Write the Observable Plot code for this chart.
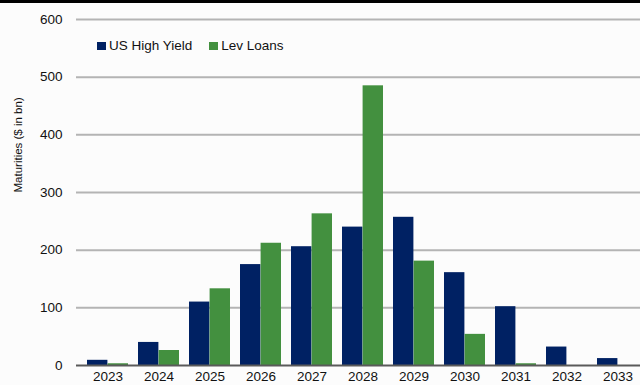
<!DOCTYPE html>
<html>
<head>
<meta charset="utf-8">
<script src="https://cdn.jsdelivr.net/npm/d3@7"></script>
<script src="https://cdn.jsdelivr.net/npm/@observablehq/plot@0.6"></script>
<style>
  html, body { margin: 0; padding: 0; background: #fcfcfc; }
  #wrap { position: relative; width: 640px; height: 385px; overflow: hidden; background: #fcfcfc; font-family: Arial, "Liberation Sans", sans-serif; }
  #topbar { position: absolute; left: 0; top: 0; width: 640px; height: 3px; background: #000; }
  #legend { position: absolute; left: 97px; top: 38px; font-size: 13.5px; color: #111; display: flex; align-items: center; }
  #legend .item { display: flex; align-items: center; margin-right: 17px; }
  #legend .sw { width: 9px; height: 8px; margin-right: 3px; }
</style>
</head>
<body>
<div id="wrap">
  <div id="chart"></div>
  <div id="topbar"></div>
  <div id="legend"></div>
</div>
<script>
const years = ["2023","2024","2025","2026","2027","2028","2029","2030","2031","2032","2033"];
const seriesNames = ["US High Yield", "Lev Loans"];
const highYield = [9, 40, 110, 175, 206, 240, 257, 161, 102, 32, 12];
const levLoans = [3, 26, 133, 212, 263, 485, 181, 54, 3, 0, 0];
const yTicks = [0, 100, 200, 300, 400, 500, 600];
const colors = ["#002163", "#43903f"];

const hyData = years.map((year, i) => ({year, value: highYield[i], series: seriesNames[0]}));
const llData = years.map((year, i) => ({year, value: levLoans[i], series: seriesNames[1]}));

const half = 20.6;

const chart = Plot.plot({
  width: 640,
  height: 385,
  marginTop: 19,
  marginBottom: 20,
  marginLeft: 76,
  marginRight: 0,
  style: {background: "#fcfcfc", fontFamily: "Arial, 'Liberation Sans', sans-serif", fontSize: "13.5px", color: "#111", overflow: "visible"},
  x: {domain: years, paddingInner: 0.2, paddingOuter: 0.0575, align: 0.84, label: null, tickSize: 0, tickPadding: 6},
  y: {domain: [0, 600], ticks: yTicks, label: null, tickSize: 0, tickPadding: 14},
  color: {domain: seriesNames, range: colors},
  marks: [
    Plot.ruleY(yTicks.filter(d => d > 0), {stroke: "#b4b4b4", strokeWidth: 2}),
    Plot.barY(hyData, {x: "year", y: "value", fill: colors[0], insetRight: half}),
    Plot.barY(llData, {x: "year", y: "value", fill: colors[1], insetLeft: half}),
    Plot.ruleY([0], {stroke: "#5a5a5a", strokeWidth: 2}),
    Plot.text(["Maturities ($ in bn)"], {frameAnchor: "left", rotate: -90, dx: -58, fontSize: 11.5, fill: "#111"})
  ]
});
document.getElementById("chart").appendChild(chart);

const legend = document.getElementById("legend");
seriesNames.forEach((name, i) => {
  const item = document.createElement("div");
  item.className = "item";
  const sw = document.createElement("span");
  sw.className = "sw";
  sw.style.background = colors[i];
  const label = document.createElement("span");
  label.textContent = name;
  item.appendChild(sw);
  item.appendChild(label);
  legend.appendChild(item);
});
</script>
</body>
</html>
